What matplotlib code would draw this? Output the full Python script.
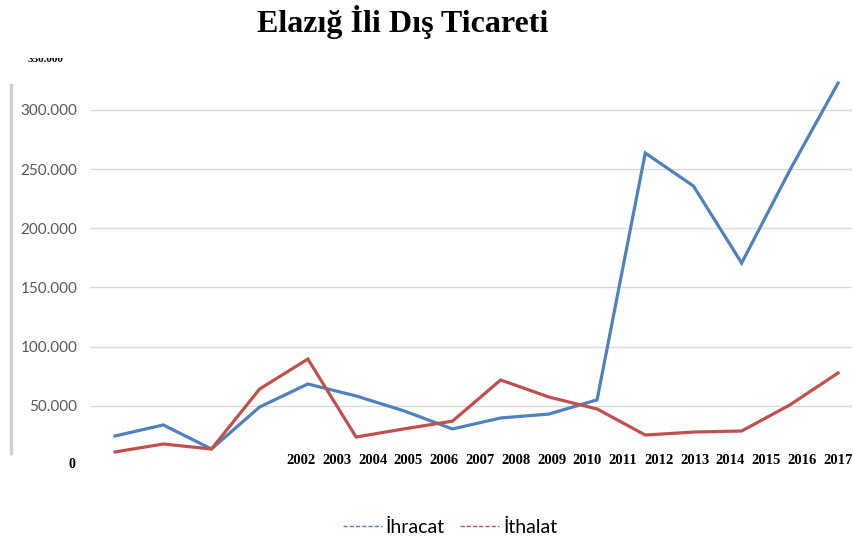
import numpy as np
import matplotlib
matplotlib.use("Agg")
import matplotlib.pyplot as plt
from matplotlib.transforms import Bbox
from matplotlib.lines import Line2D

# Veri
yillar = ["2002", "2003", "2004", "2005", "2006", "2007", "2008", "2009",
          "2010", "2011", "2012", "2013", "2014", "2015", "2016", "2017"]
ihracat = [24500, 33800, 13500, 49000, 68400, 58300, 45600, 30400,
           39700, 43000, 55000, 263500, 235600, 170600, 249000, 322600]
ithalat = [11000, 17700, 13500, 64200, 89500, 23600, 30500, 37000,
           71800, 57400, 47300, 25300, 27800, 28700, 50700, 77700]
y_ticks = [50000, 100000, 150000, 200000, 250000, 300000]

MAVI = "#4f81bd"
KIRMIZI = "#c0504d"
SERIF = "Liberation Serif"
SANS = "Lato"


def main():
    fig = plt.figure(figsize=(8.54, 5.45), dpi=100)
    ax = fig.add_axes([0.1054, 0.1651, 0.8923, 0.7064])

    x = np.arange(len(yillar))
    ax.plot(x, ihracat, color=MAVI, lw=2.3, solid_joinstyle="miter")
    ax.plot(x, ithalat, color=KIRMIZI, lw=2.3, solid_joinstyle="miter")

    ax.set_xlim(-0.52, 15.29)
    ax.set_ylim(8400, 333600)

    # y ekseni
    ax.set_yticks(y_ticks)
    ax.set_yticklabels([f"{v:,}".replace(",", ".") for v in y_ticks],
                       fontfamily=SANS, fontsize=11, color="#595959")
    ax.tick_params(axis="y", length=0, pad=9)
    ax.grid(axis="y", color="#d9d9d9", lw=1)

    # x ekseni: etiketler sağ tarafa sıkışmış
    ax.set_xticks(np.linspace(3.86, 14.99, len(yillar)))
    ax.set_xticklabels(yillar, fontfamily=SERIF, fontweight="bold", fontsize=10.5)
    ax.tick_params(axis="x", length=0, pad=-1)

    for s in ax.spines.values():
        s.set_visible(False)

    # sol gri çizgi
    fig.add_artist(Line2D([11 / 854, 11 / 854], [1 - 85 / 545, 1 - 453 / 545],
                          color="#d0d0d0", lw=2.5))

    # "0" ve kesik "350.000" etiketleri
    fig.text(72 / 854, 1 - 465 / 545, "0", fontfamily=SERIF, fontweight="bold",
             fontsize=10, ha="center", va="center")
    t = fig.text(46 / 854, 1 - 59 / 545, "350.000", fontfamily=SERIF,
                 fontweight="bold", fontsize=8, ha="center", va="center")
    t.set_clip_box(Bbox([[0, 0], [854, 545 - 58]]))
    t.set_clip_on(True)

    fig.text(403 / 854, 1 - 22 / 545, "Elazığ İli Dış Ticareti", fontfamily=SERIF,
             fontweight="bold", fontsize=23, ha="center", va="center")

    h1 = Line2D([], [], color=MAVI, lw=1, ls=(0, (3, 1.5)))
    h2 = Line2D([], [], color=KIRMIZI, lw=1, ls=(0, (3, 1.5)))
    fig.legend([h1, h2], ["İhracat", "İthalat"], loc="center",
               bbox_to_anchor=(450 / 854, 1 - 527 / 545), ncol=2, frameon=False,
               prop={"family": SANS, "size": 14}, handlelength=2,
               handletextpad=0.2, columnspacing=0.8)

    fig.savefig("out.png", dpi=100)


if __name__ == "__main__":
    main()
